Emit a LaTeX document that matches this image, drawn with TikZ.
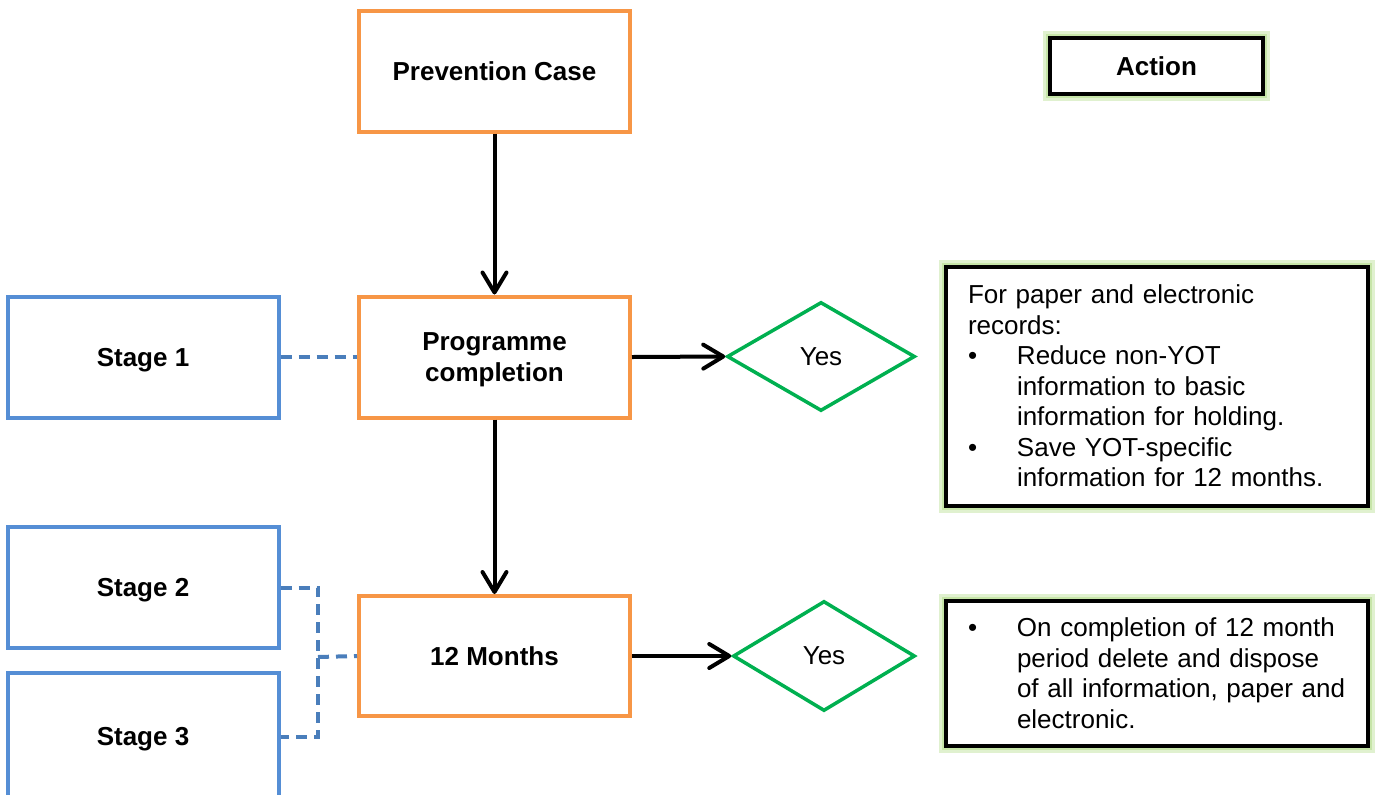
\documentclass[tikz,border=0pt]{standalone}
\usepackage{fontspec}
\setmainfont{Liberation Sans}
\usetikzlibrary{shapes.geometric,arrows.meta}
\definecolor{orangeb}{HTML}{F79646}
\definecolor{blueb}{HTML}{558ED5}
\definecolor{blued}{HTML}{4A7EBB}
\definecolor{greend}{HTML}{00B050}
\definecolor{glowg}{HTML}{C6E5A8}
\tikzset{
  base/.style={font=\fontsize{13}{15.25}\selectfont},
  stagebox/.style={draw=orangeb, line width=2pt, fill=white, minimum width=135.5pt, minimum height=60.5pt, font=\fontsize{13}{15.5}\selectfont\bfseries, align=center, inner sep=0pt, text depth=0pt},
  bluebox/.style={stagebox, draw=blueb},
  yesdia/.style={base, diamond, draw=greend, line width=1.75pt, inner sep=0pt},
  actbox/.style={base, draw=black, line width=2pt, fill=white,
    preaction={draw=glowg!55, line width=7pt},
    preaction={draw=glowg, line width=4pt}},
  flow/.style={line width=2pt, -{Straight Barb[length=10pt, width=12pt, line cap=round, line join=round]}},
  dashlink/.style={draw=blued, line width=2pt, dash pattern=on 5.5pt off 3.5pt},
}
\begin{document}
\begin{tikzpicture}[x=0.5pt,y=-0.5pt]
\useasboundingbox (0,0) rectangle (1378,794);
\clip (0,0) rectangle (1378,794);
% main flow boxes
\node[stagebox] (prev) at (494.5,71) {Prevention Case};
\node[stagebox] (prog) at (494.5,357) {Programme\\completion};
\node[stagebox, minimum height=60pt] (month) at (494.5,656) {12 Months};
% stages
\node[bluebox] (s1) at (143,357) {Stage 1};
\node[bluebox] (s2) at (143,587.5) {Stage 2};
\node[bluebox, minimum height=63.5pt] (s3) at (143,736.5) {Stage 3};
% diamonds
\node[yesdia, minimum width=94pt, minimum height=54.5pt] (d1) at (821,356.5) {Yes};
\node[yesdia, minimum width=91pt, minimum height=55pt] (d2) at (824,656) {Yes};
% action boxes
\node[actbox, minimum width=106.5pt, minimum height=28pt, font=\fontsize{13}{15.5}\selectfont\bfseries] (act) at (1156.5,66) {Action};
\node[actbox, minimum width=211pt, minimum height=119.5pt, text width=189pt, inner xsep=11pt, align=left] (a1) at (1157,386)
  {For paper and electronic\\
   records:\\
   \makebox[24.5pt][l]{\textbullet}Reduce non-YOT\\
   \hspace*{24.5pt}information to basic\\
   \hspace*{24.5pt}information for holding.\\
   \makebox[24.5pt][l]{\textbullet}Save YOT-specific\\
   \hspace*{24.5pt}information for 12 months.};
\node[actbox, minimum width=211pt, minimum height=72.5pt, text width=189pt, inner xsep=11pt, align=left] (a2) at (1157,673)
  {\makebox[24.5pt][l]{\textbullet}On completion of 12 month\\
   \hspace*{24.5pt}period delete and dispose\\
   \hspace*{24.5pt}of all information, paper and\\
   \hspace*{24.5pt}electronic.};
% arrows
\draw[flow] (prev.south) -- (prog.north);
\draw[flow] (prog.south) -- (month.north);
\draw[flow] (prog.east) -- (d1.west);
\draw[flow] (month.east) -- (d2.west);
% dashed links
\coordinate (j) at (318,657);
\draw[dashlink] (s1.east) -- (prog.west);
\draw[dashlink] (s2.east) -| (j) |- (s3.east);
\draw[dashlink] (j) -- (month.west);
\end{tikzpicture}
\end{document}
